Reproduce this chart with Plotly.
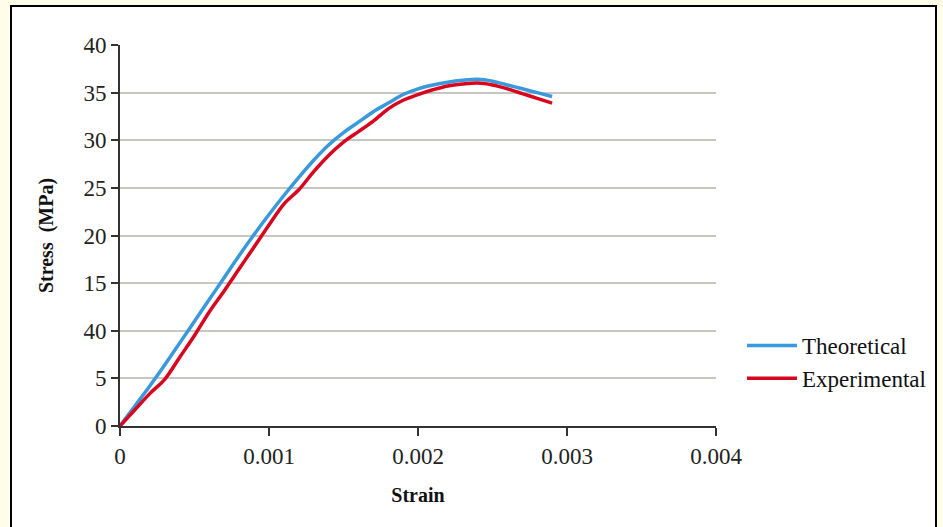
import plotly.graph_objects as go

strain = [0, 0.0001, 0.0002, 0.0003, 0.0004, 0.0005, 0.0006, 0.0007, 0.0008, 0.0009,
          0.0010, 0.0011, 0.0012, 0.0013, 0.0014, 0.0015, 0.0016, 0.0017, 0.0018, 0.0019,
          0.0020, 0.0021, 0.0022, 0.0023, 0.0024, 0.0025, 0.0026, 0.0027, 0.0028, 0.0029]
theoretical = [0, 2.1, 4.2, 6.4, 8.7, 11.0, 13.3, 15.6, 17.9, 20.1,
               22.2, 24.2, 26.1, 27.9, 29.5, 30.8, 31.9, 33.0, 33.9, 34.8,
               35.4, 35.8, 36.1, 36.3, 36.4, 36.2, 35.8, 35.4, 35.0, 34.6]
experimental = [0, 1.7, 3.4, 4.9, 7.2, 9.5, 12.0, 14.2, 16.5, 18.8,
                21.1, 23.3, 24.8, 26.7, 28.4, 29.8, 30.9, 32.0, 33.3, 34.2,
                34.8, 35.3, 35.7, 35.9, 36.0, 35.8, 35.4, 34.9, 34.4, 33.9]

x_tickvals = [0, 0.001, 0.002, 0.003, 0.004]
x_ticktext = ["0", "0.001", "0.002", "0.003", "0.004"]
y_tickvals = [0, 5, 10, 15, 20, 25, 30, 35, 40]
y_ticktext = ["0", "5", "40", "15", "20", "25", "30", "35", "40"]

FONT = "Liberation Serif"

fig = go.Figure()
fig.add_trace(go.Scatter(x=strain, y=theoretical, mode="lines", name="Theoretical",
                         line=dict(color="#3a98dc", width=3.5, shape="spline")))
fig.add_trace(go.Scatter(x=strain, y=experimental, mode="lines", name="Experimental",
                         line=dict(color="#d8051e", width=3.5, shape="spline")))

W, H = 943, 527
ml, mr, mt, mb = 120, 227, 45, 101
pw, ph = W - ml - mr, H - mt - mb

def px2x(px):
    return (px - ml) / pw

def py2y(py):
    return (H - mb - py) / ph

fig.add_shape(type="rect", xref="paper", yref="paper",
              x0=px2x(11), x1=px2x(936), y0=py2y(535), y1=py2y(6),
              line=dict(color="black", width=2), fillcolor="white", layer="below")

fig.update_layout(
    width=W, height=H,
    margin=dict(l=ml, r=mr, t=mt, b=mb),
    paper_bgcolor="#fffde8",
    plot_bgcolor="rgba(0,0,0,0)",
    font=dict(family=FONT, color="#222222", size=23),
    showlegend=True,
    legend=dict(x=px2x(742), y=py2y(324), xanchor="left", yanchor="top",
                bgcolor="rgba(0,0,0,0)", font=dict(size=23, family=FONT, color="#111111"),
                itemwidth=50, tracegroupgap=0),
    xaxis=dict(range=[0, 0.004], tickvals=x_tickvals, ticktext=x_ticktext,
               showgrid=False, zeroline=False, showline=True, linecolor="#333333", linewidth=2,
               ticks="outside", ticklen=8, tickwidth=2, tickcolor="#333333",
               tickfont=dict(size=23, family=FONT, color="#222222"),
               title=dict(text="<b>Strain</b>", font=dict(size=20, family=FONT, color="#111111"),
                          standoff=20)),
    yaxis=dict(range=[0, 40], tickvals=y_tickvals, ticktext=y_ticktext,
               showgrid=True, gridcolor="#c6c6c2", gridwidth=1.5, zeroline=False,
               showline=True, linecolor="#333333", linewidth=2,
               ticks="outside", ticklen=7, tickwidth=2, tickcolor="#333333",
               tickfont=dict(size=23, family=FONT, color="#222222"),
               title=dict(text="<b>Stress  (MPa)</b>", font=dict(size=20, family=FONT, color="#111111"),
                          standoff=24)),
)

fig.write_html("out.html", config={"displayModeBar": False},
               post_script="document.body.style.margin='0';")
